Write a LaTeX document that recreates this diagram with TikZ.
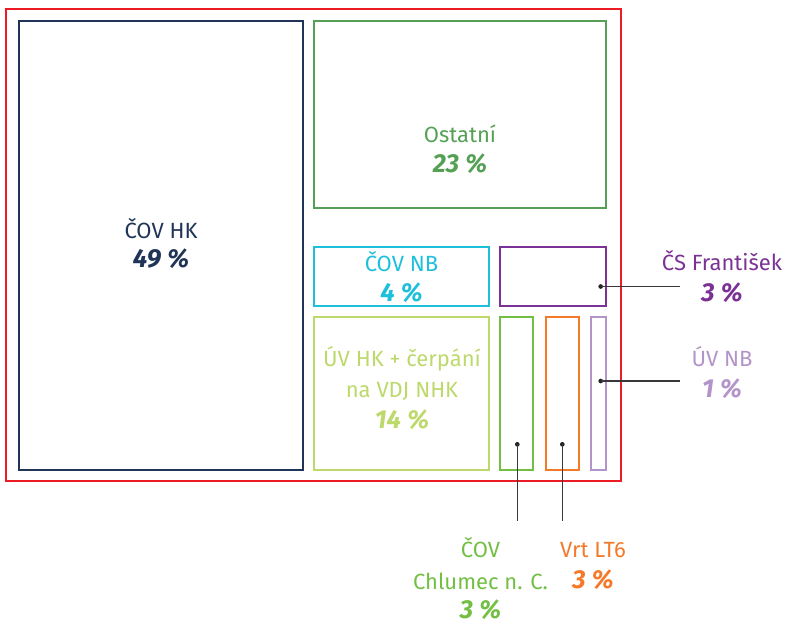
\documentclass[tikz,border=0pt]{standalone}
\usepackage{fontspec}
\setmainfont{Fira Sans}
\usetikzlibrary{fit}
\definecolor{cred}{HTML}{ED1C24}
\definecolor{cnavy}{HTML}{1F3457}
\definecolor{cgreen}{HTML}{55A055}
\definecolor{ccyan}{HTML}{1EBFDA}
\definecolor{clime}{HTML}{BDD96C}
\definecolor{cchl}{HTML}{72BF44}
\definecolor{corange}{HTML}{F47A2A}
\definecolor{clav}{HTML}{B394C8}
\definecolor{cpurple}{HTML}{7B3294}
\definecolor{cdot}{HTML}{222222}
\tikzset{
  box/.style={draw, line width=2.4pt*0.75, inner sep=0pt, fill=none},
  lbl/.style={anchor=base, inner sep=0pt, font=\fontsize{16.5}{18}\selectfont},
  pct/.style={anchor=base, inner sep=0pt, font=\fontsize{19.5}{20}\selectfont\bfseries\itshape},
  dot/.style={circle, fill=cdot, inner sep=0pt, minimum size=3.5pt},
  lead/.style={draw=cdot!90, line width=0.8pt},
}
\begin{document}
\begin{tikzpicture}[x=0.75pt,y=-0.75pt]
\useasboundingbox (0,0) rectangle (787,621);
% corners
\coordinate (r1) at (6,9); \coordinate (r2) at (621,481);
\coordinate (a1) at (19,21); \coordinate (a2) at (303,470);
\coordinate (b1) at (314,21); \coordinate (b2) at (606,208);
\coordinate (c1) at (314,247); \coordinate (c2) at (489,306);
\coordinate (p1) at (500,247); \coordinate (p2) at (606,306);
\coordinate (u1) at (314,317); \coordinate (u2) at (489,470);
\coordinate (h1) at (500,317); \coordinate (h2) at (533,470);
\coordinate (o1) at (546,317); \coordinate (o2) at (579,470);
\coordinate (n1) at (591,317); \coordinate (n2) at (606,470);
% boxes
\node[box, draw=cred, fit=(r1)(r2)] (outer) {};
\node[box, draw=cnavy, fit=(a1)(a2)] (covhk) {};
\node[box, draw=cgreen, fit=(b1)(b2)] (ostatni) {};
\node[box, draw=ccyan, fit=(c1)(c2)] (covnb) {};
\node[box, draw=cpurple, fit=(p1)(p2)] (cs) {};
\node[box, draw=clime, fit=(u1)(u2)] (uvhk) {};
\node[box, draw=cchl, fit=(h1)(h2)] (chl) {};
\node[box, draw=corange, fit=(o1)(o2)] (vrt) {};
\node[box, draw=clav, fit=(n1)(n2)] (uvnb) {};
% inner labels
\node[lbl, text=cnavy] (t1) at (161,238) {ČOV HK};
\node[pct, text=cnavy] (t1p) at (161,267) {49 \%};
\node[lbl, text=cgreen] (t2) at (460,142) {Ostatní};
\node[pct, text=cgreen] (t2p) at (460,172) {23 \%};
\node[lbl, text=ccyan] (t3) at (401.5,271) {ČOV NB};
\node[pct, text=ccyan] (t3p) at (401.5,301) {4 \%};
\node[lbl, text=clime] (t4) at (402,366) {ÚV HK + čerpání};
\node[lbl, text=clime] (t4b) at (402,397) {na VDJ NHK};
\node[pct, text=clime] (t4p) at (402,428) {14 \%};
% outer labels
\node[lbl, text=cpurple] (t5) at (722,270) {ČS František};
\node[pct, text=cpurple] (t5p) at (722,301) {3 \%};
\node[lbl, text=clav] (t6) at (722,366) {ÚV NB};
\node[pct, text=clav] (t6p) at (722,397) {1 \%};
\node[lbl, text=cchl] (t7) at (480.5,557) {ČOV};
\node[lbl, text=cchl] (t7b) at (480.5,589) {Chlumec n. C.};
\node[pct, text=cchl, anchor=south] (t7p) at (480.5,620) {3 \%};
\node[lbl, text=corange] (t8) at (593,557) {Vrt LT6};
\node[pct, text=corange] (t8p) at (593,588) {3 \%};
% leaders
\node[dot] (d1) at (600.7,286.5) {};
\coordinate (e1) at (680,286.5);
\node[dot] (d2) at (600.7,381) {};
\coordinate (e2) at (680,381);
\node[dot] (d3) at (517.3,444.3) {};
\coordinate (e3) at (517.3,521);
\node[dot] (d4) at (562.3,444.3) {};
\coordinate (e4) at (562.3,521);
\draw[lead] (d1.center) -- (e1);
\draw[lead] (d2.center) -- (e2);
\draw[lead] (d3.center) -- (e3);
\draw[lead] (d4.center) -- (e4);
\end{tikzpicture}
\end{document}
